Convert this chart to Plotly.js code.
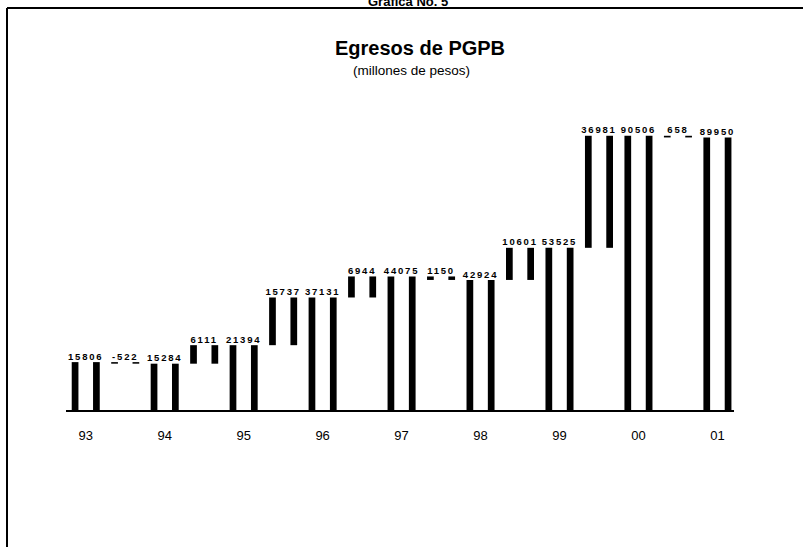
<!DOCTYPE html>
<html>
<head>
<meta charset="utf-8">
<script src="https://cdn.plot.ly/plotly-3.0.1.min.js"></script>
<style>
html,body{margin:0;padding:0;background:#fff;}
#chart{width:803px;height:547px;}
.textpoint text{letter-spacing:1.8px;}
</style>
</head>
<body>
<div id="chart"></div>
<script>
// Data
const years = ['93','94','95','96','97','98','99','00','01'];
const totals = [15806, 15284, 21394, 37131, 44075, 42924, 53525, 90506, 89950];
const changes = [-522, 6111, 15737, 6944, -1150, 10601, 36981, -556];
const totalLabels = ['15806','15284','21394','37131','44075','42924','53525','90506','89950'];
const changeLabels = ['-522','6111','15737','6944','1150','10601','36981','658'];

// Build waterfall sequence: total, change, total, change, ...
const xs = [], bases = [], heights = [], tops = [], labels = [];
for (let i = 0; i < totals.length; i++) {
  xs.push(2 * i);
  bases.push(0);
  heights.push(totals[i]);
  tops.push(totals[i]);
  labels.push(totalLabels[i]);
  if (i < changes.length) {
    const prev = totals[i];
    const next = prev + changes[i];
    xs.push(2 * i + 1);
    bases.push(Math.min(prev, next));
    heights.push(Math.abs(changes[i]));
    tops.push(Math.max(prev, next));
    labels.push(changeLabels[i]);
  }
}

const stripW = 0.17;
const barCommon = {
  type: 'bar', x: xs, y: heights, base: bases,
  width: stripW, marker: {color: '#000', line: {width: 0}},
  hoverinfo: 'skip', showlegend: false
};
const traces = [
  Object.assign({}, barCommon, {offset: -0.355}),
  Object.assign({}, barCommon, {offset: 0.185}),
  {
    type: 'scatter', mode: 'text', x: xs, y: tops, text: labels,
    textposition: 'top center',
    textfont: {family: 'Liberation Sans, Arial, sans-serif', size: 9.5, color: '#000', weight: 'bold'},
    hoverinfo: 'skip', showlegend: false, cliponaxis: false
  }
];

const PL = 66, PR = 734, PT = 107, PB = 410;
const px = v => (v - PL) / (PR - PL);
const py = v => (PB - v) / (PB - PT);

const layout = {
  width: 803, height: 547,
  margin: {l: PL, r: 803 - PR, t: PT, b: 547 - PB, pad: 0},
  paper_bgcolor: '#fff', plot_bgcolor: '#fff',
  barmode: 'overlay',
  xaxis: {
    range: [-0.5, 16.42], tickmode: 'array',
    tickvals: years.map((y, i) => 2 * i), ticktext: years,
    showgrid: false, zeroline: false, showline: true, linecolor: '#000', linewidth: 2,
    ticks: '', ticklabelstandoff: 12,
    tickfont: {family: 'Liberation Sans, Arial, sans-serif', size: 13, color: '#000'},
    fixedrange: true
  },
  yaxis: {
    range: [0, 100000], visible: false, showgrid: false, zeroline: false, fixedrange: true
  },
  annotations: [
    {xref: 'paper', yref: 'paper', x: px(408), y: py(1.5), xanchor: 'center', yanchor: 'middle',
     text: '<b>Grafica No. 5</b>', showarrow: false,
     font: {family: 'Liberation Sans, Arial, sans-serif', size: 13, color: '#000'}},
    {xref: 'paper', yref: 'paper', x: px(420), y: py(48), xanchor: 'center', yanchor: 'middle',
     text: '<b>Egresos de PGPB</b>', showarrow: false,
     font: {family: 'Liberation Sans, Arial, sans-serif', size: 20, color: '#000'}},
    {xref: 'paper', yref: 'paper', x: px(411), y: py(70), xanchor: 'center', yanchor: 'middle',
     text: '(millones de pesos)', showarrow: false,
     font: {family: 'Liberation Sans, Arial, sans-serif', size: 13.5, color: '#000'}}
  ],
  shapes: [
    {type: 'line', xref: 'paper', yref: 'paper', x0: px(7), x1: px(7), y0: py(8), y1: py(560),
     line: {color: '#000', width: 2}},
    {type: 'line', xref: 'paper', yref: 'paper', x0: px(7), x1: px(810), y0: py(8), y1: py(8),
     line: {color: '#000', width: 2}}
  ]
};

Plotly.newPlot('chart', traces, layout, {displayModeBar: false, staticPlot: true});
</script>
</body>
</html>
